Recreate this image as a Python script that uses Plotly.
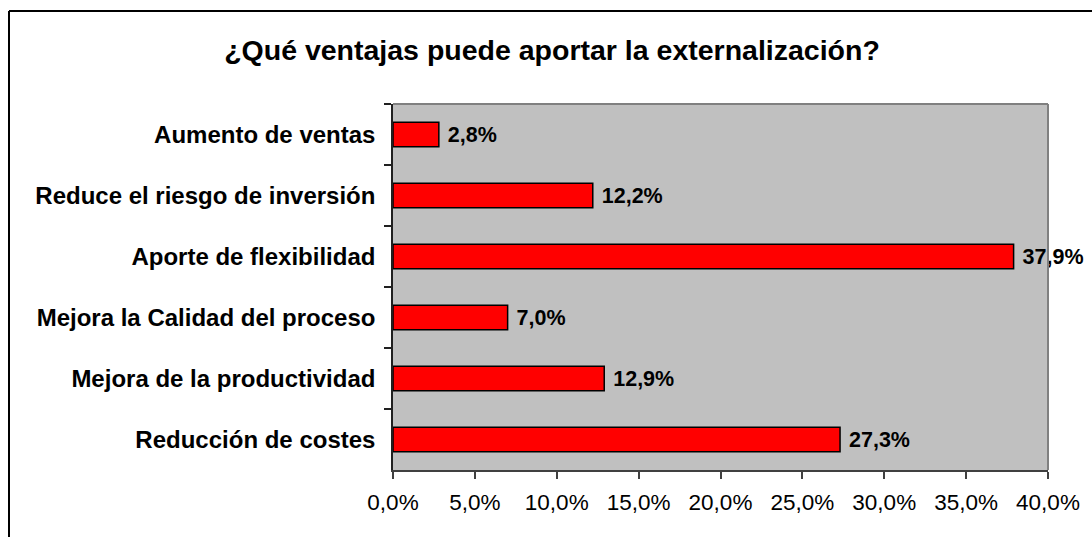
import plotly.graph_objects as go

categories = [
    "Aumento de ventas",
    "Reduce el riesgo de inversión",
    "Aporte de flexibilidad",
    "Mejora la Calidad del proceso",
    "Mejora de la productividad",
    "Reducción de costes",
]
values = [2.8, 12.2, 37.9, 7.0, 12.9, 27.3]
tick_vals = [0, 5, 10, 15, 20, 25, 30, 35, 40]
tick_text = ["0,0%", "5,0%", "10,0%", "15,0%", "20,0%", "25,0%", "30,0%", "35,0%", "40,0%"]
title_text = "¿Qué ventajas puede aportar la externalización?"

FONT = "Liberation Sans, Arial, sans-serif"

fig = go.Figure(
    go.Bar(
        x=values,
        y=categories,
        orientation="h",
        marker=dict(color="#FF0000", line=dict(color="#000000", width=1.5)),
        width=0.4,
        texttemplate="\u00a0%{x:.1f}%",
        textposition="outside",
        textfont=dict(family=FONT, size=21.5, color="#000000", weight="bold"),
        constraintext="none",
        cliponaxis=False,
        hoverinfo="skip",
    )
)

W, H = 1092, 537
L, R, T, B = 393, 44, 104, 67
pw, ph = W - L - R, H - T - B

def px2x(px):
    return (px - L) / pw

def py2y(py):
    return 1 - (py - T) / ph

fig.update_layout(
    width=W,
    height=H,
    autosize=False,
    margin=dict(l=L, r=R, t=T, b=B, pad=0),
    paper_bgcolor="#FFFFFF",
    plot_bgcolor="#C0C0C0",
    separators=",.",
    showlegend=False,
    title=dict(
        text="<b>" + title_text + "</b>",
        x=px2x(552), xref="paper", xanchor="center",
        y=1 - 50 / H, yref="container", yanchor="middle",
        font=dict(family=FONT, size=28.5, color="#000000"),
    ),
    xaxis=dict(
        range=[0, 40],
        tickmode="array",
        tickvals=tick_vals,
        ticktext=tick_text,
        showgrid=False,
        zeroline=False,
        showline=True,
        linecolor="#404040",
        linewidth=1.5,
        ticks="outside",
        ticklen=7,
        tickwidth=1.5,
        tickcolor="#404040",
        ticklabelstandoff=4,
        tickfont=dict(family=FONT, size=22.5, color="#000000"),
        fixedrange=True,
    ),
    yaxis=dict(
        categoryorder="array",
        categoryarray=categories,
        autorange="reversed",
        showgrid=False,
        zeroline=False,
        showline=True,
        linecolor="#202020",
        linewidth=1.5,
        ticks="outside",
        tickson="boundaries",
        ticklen=7,
        tickwidth=1.5,
        tickcolor="#202020",
        ticklabelstandoff=11,
        tickfont=dict(family=FONT, size=24, color="#000000", weight="bold"),
        fixedrange=True,
    ),
    shapes=[
        dict(type="line", xref="paper", yref="paper", x0=0, x1=1, y0=1, y1=1,
             line=dict(color="#808080", width=2)),
        dict(type="line", xref="paper", yref="paper", x0=1, x1=1, y0=0, y1=1,
             line=dict(color="#808080", width=2)),
        dict(type="line", xref="paper", yref="paper", x0=px2x(9), x1=px2x(1100),
             y0=py2y(11), y1=py2y(11), line=dict(color="#000000", width=2)),
        dict(type="line", xref="paper", yref="paper", x0=px2x(9), x1=px2x(9),
             y0=py2y(11), y1=py2y(545), line=dict(color="#000000", width=2)),
    ],
)

fig.write_html(
    "out.html",
    config={"displayModeBar": False},
    post_script="document.body.style.margin='0';document.body.style.overflow='hidden';",
)
